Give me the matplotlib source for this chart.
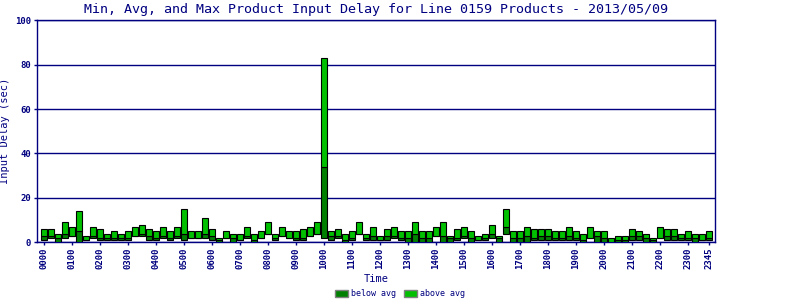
import matplotlib
matplotlib.use("Agg")
import numpy as np
import matplotlib.pyplot as plt
from matplotlib.patches import Patch

# 15 minute slots 0000 .. 2345
times = ["%02d%02d" % (h, m) for h in range(24) for m in (0, 15, 30, 45)]

min_delay = [1, 2, 0, 2, 3, 0, 1, 2, 1, 1, 1, 1, 1, 3, 3, 1, 1, 2, 1, 2,
             1, 2, 2, 2, 1, 0, 2, 0, 1, 2, 0, 2, 4, 1, 3, 2, 1, 1, 3, 4,
             2, 1, 2, 0, 1, 4, 1, 1, 1, 1, 2, 1, 0, 0, 0, 0, 3, 0, 0, 1,
             2, 0, 1, 1, 2, 0, 4, 0, 0, 0, 1, 1, 1, 1, 1, 1, 1, 0, 2, 0,
             0, 0, 0, 0, 1, 1, 0, 0, 2, 1, 1, 1, 1, 0, 1, 1]
avg_delay = [3, 3, 2, 4, 3, 5, 1, 3, 2, 2, 2, 2, 2, 3, 4, 3, 2, 3, 2, 3,
             4, 2, 2, 4, 3, 1, 2, 2, 1, 3, 1, 2, 4, 2, 3, 2, 2, 2, 3, 4,
             34, 3, 3, 1, 2, 4, 2, 3, 1, 3, 3, 2, 2, 4, 2, 2, 3, 3, 2, 2,
             3, 2, 1, 2, 4, 2, 7, 2, 2, 3, 2, 3, 3, 2, 2, 3, 2, 1, 2, 3,
             2, 0, 1, 1, 3, 3, 2, 1, 2, 3, 3, 2, 2, 2, 1, 2]
max_delay = [6, 6, 4, 9, 7, 14, 3, 7, 6, 4, 5, 4, 5, 7, 8, 6, 5, 7, 5, 7,
             15, 5, 5, 11, 6, 2, 5, 4, 4, 7, 4, 5, 9, 4, 7, 5, 5, 6, 7, 9,
             83, 5, 6, 4, 5, 9, 4, 7, 3, 6, 7, 5, 5, 9, 5, 5, 7, 9, 3, 6,
             7, 5, 3, 4, 8, 3, 15, 5, 5, 7, 6, 6, 6, 5, 5, 7, 5, 4, 7, 5,
             5, 2, 3, 3, 6, 5, 4, 2, 7, 6, 6, 4, 5, 4, 4, 5]

navy = "#000080"
dark = "#008000"
bright = "#00c000"
mono = "DejaVu Sans Mono"

mn = np.array(min_delay)
av = np.array(avg_delay)
mx = np.array(max_delay)
x = np.arange(len(times))

fig = plt.figure(figsize=(8, 3), dpi=100)
ax = fig.add_axes([0.046, 0.192, 0.848, 0.741])

ax.bar(x, av - mn, bottom=mn, width=0.82, color=dark, edgecolor="black", linewidth=0.8, zorder=3)
ax.bar(x, mx - av, bottom=av, width=0.82, color=bright, edgecolor="black", linewidth=0.8, zorder=3)

ax.set_xlim(-1.0, 95.86)
ax.set_ylim(0, 100)
ax.set_yticks(range(0, 101, 20))
ax.grid(axis="y", color=navy, linewidth=1, zorder=1)

ticks = list(range(0, 96, 4)) + [95]
ax.set_xticks(ticks)
ax.set_xticklabels([times[i] for i in ticks], rotation=90, family=mono,
                   fontsize=6.5, fontweight="bold", color=navy)
for lab in ax.get_yticklabels():
    lab.set_family(mono)
    lab.set_fontsize(6.5)
    lab.set_fontweight("bold")
    lab.set_color(navy)
ax.tick_params(axis="both", colors=navy, length=2, width=1, pad=2)

for s in ax.spines.values():
    s.set_color(navy)
    s.set_linewidth(1)

ax.set_xlabel("Time", family=mono, fontsize=7.5, color=navy, labelpad=3)
ax.set_ylabel("Input Delay (sec)", family=mono, fontsize=7.5, color=navy, labelpad=4)
fig.text(0.47, 0.968, "Min, Avg, and Max Product Input Delay for Line 0159 Products - 2013/05/09",
         family=mono, fontsize=9.6, color=navy, ha="center", va="center")

handles = [Patch(facecolor=dark, edgecolor="gray", label="below avg"),
           Patch(facecolor=bright, edgecolor="gray", label="above avg")]
leg = fig.legend(handles=handles, loc="center", bbox_to_anchor=(0.5, 0.02), ncol=2,
                 frameon=False, prop={"family": mono, "size": 6},
                 handlelength=1.6, handleheight=1.0, handletextpad=0.3, columnspacing=1.0)
for t in leg.get_texts():
    t.set_color(navy)

fig.savefig("out.png", dpi=100)
